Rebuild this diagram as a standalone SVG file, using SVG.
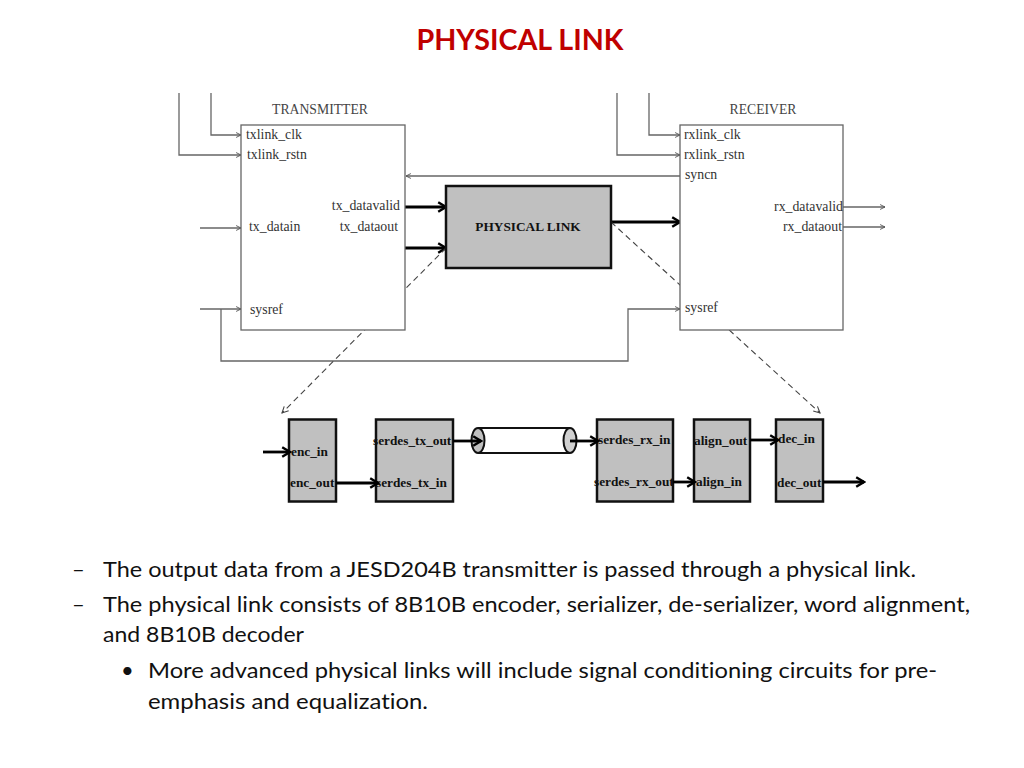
<svg xmlns="http://www.w3.org/2000/svg" width="1024" height="768" viewBox="0 0 1024 768">
<style>
.bg{fill:#ffffff}
.title{font-family:Lato,"Open Sans",sans-serif;font-weight:bold;font-size:29px;fill:#c00000}
.body{font-family:Lato,"Open Sans",sans-serif;font-size:22px;fill:#111;font-variant-ligatures:none}
.sig{font-family:"Liberation Serif",serif;font-size:13.8px;fill:#333}
.hdr{font-family:"Liberation Serif",serif;font-size:13.7px;fill:#444}
.blk{font-family:"Liberation Serif",serif;font-weight:bold;font-size:13.3px;fill:#111}
.box{fill:#fff;stroke:#666;stroke-width:1.3}
.gbox{fill:#c0c0c0;stroke:#111;stroke-width:2.5}
.thin{fill:none;stroke:#666;stroke-width:1.3}
.thick{fill:none;stroke:#000;stroke-width:2.8}
.dash{fill:none;stroke:#444;stroke-width:1.1;stroke-dasharray:6 4}
</style>
<defs>
<marker id="ta" viewBox="0 0 10 10" refX="9" refY="5" markerWidth="7" markerHeight="7" orient="auto" markerUnits="userSpaceOnUse"><path d="M2,1.5 L9,5 L2,8.5" fill="none" stroke="#555" stroke-width="1.3"/></marker>
<marker id="ka" viewBox="0 0 10 10" refX="8.5" refY="5" markerWidth="12" markerHeight="12" orient="auto" markerUnits="userSpaceOnUse"><path d="M2,1 L8.5,5 L2,9" fill="none" stroke="#000" stroke-width="2"/></marker>
<marker id="da" viewBox="0 0 10 10" refX="9" refY="5" markerWidth="9" markerHeight="9" orient="auto" markerUnits="userSpaceOnUse"><path d="M2,1.5 L9,5 L2,8.5" fill="none" stroke="#444" stroke-width="1.2"/></marker>
</defs>
<rect class="bg" x="0" y="0" width="1024" height="768"/>
<text class="title" x="520" y="50" text-anchor="middle" textLength="207" lengthAdjust="spacingAndGlyphs">PHYSICAL LINK</text>

<g id="connectors">
<path class="thin" d="M211,93 V135 H241" marker-end="url(#ta)"/>
<path class="thin" d="M179,93 V155 H241" marker-end="url(#ta)"/>
<path class="thin" d="M200,228 H241" marker-end="url(#ta)"/>
<path class="thin" d="M200,309 H241" marker-end="url(#ta)"/>
<path class="thin" d="M221,309 V361 H628 V309 H680" marker-end="url(#ta)"/>
<path class="thin" d="M649,93 V135 H680" marker-end="url(#ta)"/>
<path class="thin" d="M617,93 V155 H680" marker-end="url(#ta)"/>
<path class="thin" d="M680,176 H406" marker-end="url(#ta)"/>
<path class="thin" d="M843,207 H885" marker-end="url(#ta)"/>
<path class="thin" d="M843,227 H885" marker-end="url(#ta)"/>
<path class="thick" d="M405,207 H446" marker-end="url(#ka)"/>
<path class="thick" d="M405,248 H446" marker-end="url(#ka)"/>
<path class="thick" d="M611,222 H680" marker-end="url(#ka)"/>
<path class="dash" d="M446,248 L282,413" marker-end="url(#da)"/>
<path class="dash" d="M611,222 L820,413" marker-end="url(#da)"/>
</g>

<g id="transmitter">
<rect class="box" x="241" y="125" width="164" height="205"/>
<text class="hdr" x="320" y="114" text-anchor="middle">TRANSMITTER</text>
<text class="sig" x="246" y="139">txlink_clk</text>
<text class="sig" x="247" y="159">txlink_rstn</text>
<text class="sig" x="249" y="231">tx_datain</text>
<text class="sig" x="250" y="314">sysref</text>
<text class="sig" x="400" y="210" text-anchor="end">tx_datavalid</text>
<text class="sig" x="398" y="231" text-anchor="end">tx_dataout</text>
</g>

<g id="receiver">
<rect class="box" x="680" y="125" width="163" height="205"/>
<text class="hdr" x="763" y="114" text-anchor="middle">RECEIVER</text>
<text class="sig" x="684" y="139">rxlink_clk</text>
<text class="sig" x="684" y="159">rxlink_rstn</text>
<text class="sig" x="685" y="179">syncn</text>
<text class="sig" x="843" y="211" text-anchor="end">rx_datavalid</text>
<text class="sig" x="842" y="231" text-anchor="end">rx_dataout</text>
<text class="sig" x="685" y="312">sysref</text>
</g>

<g id="physical-link">
<rect class="gbox" x="446" y="186" width="165" height="82"/>
<text class="blk" x="528" y="231" text-anchor="middle">PHYSICAL LINK</text>
</g>

<g id="encoder">
<rect class="gbox" x="289" y="419.5" width="47" height="82"/>
<text class="blk" x="291" y="456">enc_in</text>
<text class="blk" x="290" y="487">enc_out</text>
</g>

<g id="serdes-tx">
<rect class="gbox" x="376" y="419.5" width="77" height="82"/>
<text class="blk" x="373" y="445">serdes_tx_out</text>
<text class="blk" x="376" y="487">serdes_tx_in</text>
</g>

<g id="cable">
<rect x="478" y="428" width="92" height="25" fill="#fff" stroke="none"/>
<path d="M478,428 H570 M478,453 H570" stroke="#111" stroke-width="2" fill="none"/>
<ellipse cx="570" cy="440.5" rx="6.5" ry="12.5" fill="#d0d0d0" stroke="#111" stroke-width="2"/>
<ellipse cx="478" cy="440.5" rx="6.5" ry="12.5" fill="#c0c0c0" stroke="#111" stroke-width="2"/>
</g>

<g id="serdes-rx">
<rect class="gbox" x="597" y="419.5" width="76" height="82"/>
<text class="blk" x="598" y="444">serdes_rx_in</text>
<text class="blk" x="594" y="486">serdes_rx_out</text>
</g>

<g id="align">
<rect class="gbox" x="694" y="419.5" width="56" height="82"/>
<text class="blk" x="694" y="445">align_out</text>
<text class="blk" x="696" y="486">align_in</text>
</g>

<g id="decoder">
<rect class="gbox" x="776" y="419.5" width="47" height="82"/>
<text class="blk" x="778" y="443">dec_in</text>
<text class="blk" x="777" y="487">dec_out</text>
</g>

<g id="bottom-connectors">
<path class="thick" d="M263,452 H290" marker-end="url(#ka)"/>
<path class="thick" d="M336,483 H378" marker-end="url(#ka)"/>
<path class="thick" d="M453,441 H481" stroke-width="2.2" marker-end="url(#ka)"/>
<path class="thick" d="M570,441 H598" stroke-width="2.2" marker-end="url(#ka)"/>
<path class="thick" d="M673,482 H695" stroke-width="2.2" marker-end="url(#ka)"/>
<path class="thick" d="M750,440 H778" stroke-width="2.2" marker-end="url(#ka)"/>
<path class="thick" d="M823,482 H864" marker-end="url(#ka)"/>
</g>

<g id="text-body">
<text class="body" x="72" y="577">–</text>
<text class="body" x="103" y="577" textLength="813" lengthAdjust="spacingAndGlyphs">The output data from a JESD204B transmitter is passed through a physical link.</text>
<text class="body" x="72" y="612">–</text>
<text class="body" x="103" y="612" textLength="867" lengthAdjust="spacingAndGlyphs">The physical link consists of 8B10B encoder, serializer, de-serializer, word alignment,</text>
<text class="body" x="103" y="642" textLength="201" lengthAdjust="spacingAndGlyphs">and 8B10B decoder</text>
<text class="body" x="121" y="678" font-size="18">•</text>
<text class="body" x="148" y="678" textLength="789" lengthAdjust="spacingAndGlyphs">More advanced physical links will include signal conditioning circuits for pre-</text>
<text class="body" x="148" y="709" textLength="280" lengthAdjust="spacingAndGlyphs">emphasis and equalization.</text>
</g>
</svg>
